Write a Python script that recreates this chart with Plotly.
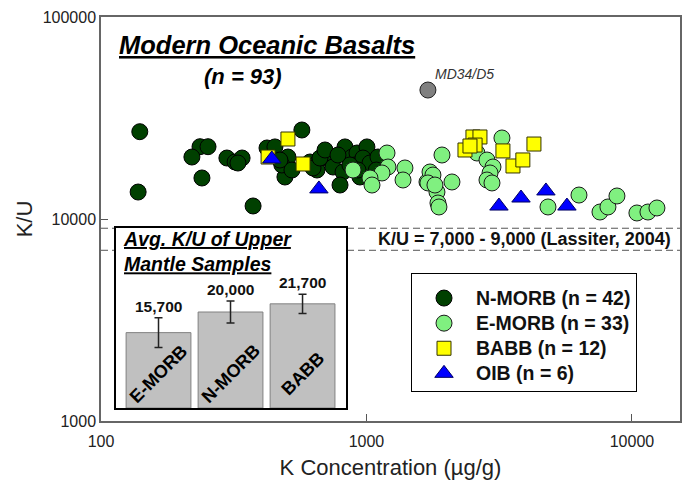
import math
import plotly.graph_objects as go

# ---------------- data ----------------
nmorb_k = [140, 138, 236, 253, 220, 240, 298, 320, 340, 328, 374, 422, 452, 506, 493, 480, 571, 613, 640, 651,
           629, 729, 748, 830, 882, 816, 795, 921, 905, 1004, 970, 1031, 945, 668, 866, 1105, 1089, 524, 698, 781,
           929, 472]
nmorb_ku = [27050, 13600, 22800, 22800, 20270, 15960, 20040, 19150, 20040, 18930, 11600, 22470, 22740, 20270, 16140,
            18510, 27580, 19150, 18510, 17480, 17890, 19590, 18090, 22740, 20270, 17090, 14730, 21220, 18510, 22740,
            20040, 18930, 16140, 20040, 18510, 20270, 17480, 17480, 21960, 20740, 17480, 19590]

emorb_k = [1195, 1205, 1144, 1031, 1049, 890, 1396, 1373, 1690, 1735, 1843, 1925, 1780, 1704, 1811, 2099, 1859, 1875,
           2608, 2844, 2996, 2920, 2844, 2970, 3238, 4827, 6316, 7578, 8120, 8780, 10440, 11490, 12420]
emorb_ku = [21220, 18090, 16900, 15960, 14730, 17480, 17890, 15600, 15250, 17090, 13600, 20740, 16510, 15080, 14730,
            15250, 12000, 11470, 21220, 19590, 18090, 16900, 15600, 15080, 25180, 11470, 13140, 10830, 11470, 13000,
            10710, 10830, 11340]

babb_k = [506, 426, 577, 2350, 2518, 2676, 2565, 3266, 3563, 3882, 4274, 2454]
babb_ku = [24890, 20270, 18720, 21960, 25470, 25470, 23230, 21730, 18300, 19600, 23500, 22980]

oib_k = [440, 662, 3155, 3820, 4742, 5690]
oib_ku = [19820, 14090, 11590, 12700, 13770, 11590]

outlier_k = [1704]
outlier_ku = [43500]
outlier_label = "MD34/D5"

lassiter_range = [7000, 9000]

inset_cats = ["E-MORB", "N-MORB", "BABB"]
inset_vals = [15700, 20000, 21700]
inset_err = [3100, 2300, 2000]
inset_labels = ["15,700", "20,000", "21,700"]

series_names = ["N-MORB (n = 42)", "E-MORB (n = 33)", "BABB (n = 12)", "OIB (n = 6)"]

# ---------------- style ----------------
FONT = "Arial, Liberation Sans, sans-serif"
W, H = 686, 480
L, R, T, B = 101, 6, 17, 59
PW, PH = W - L - R, H - T - B


def px(x):
    return (x - L) / PW


def py(y):
    return (H - B - y) / PH


def lname(s):
    return '<span style="font-size:19.5px">' + s + '</span>'


fig = go.Figure()

fig.add_trace(go.Scatter(x=nmorb_k, y=nmorb_ku, mode="markers", name=lname(series_names[0]),
                         marker=dict(symbol="circle", size=16, color="#004000",
                                     line=dict(color="#000000", width=1))))
fig.add_trace(go.Scatter(x=emorb_k, y=emorb_ku, mode="markers", name=lname(series_names[1]),
                         marker=dict(symbol="circle", size=16, color="#80F080",
                                     line=dict(color="#1a1a1a", width=1))))
fig.add_trace(go.Scatter(x=babb_k, y=babb_ku, mode="markers", name=lname(series_names[2]),
                         marker=dict(symbol="square", size=14, color="#FFFF00",
                                     line=dict(color="#333300", width=1))))
fig.add_trace(go.Scatter(x=oib_k, y=oib_ku, mode="markers", name=lname(series_names[3]),
                         marker=dict(symbol="triangle-up", size=16, color="#0000FF",
                                     line=dict(color="#000066", width=1))))
fig.add_trace(go.Scatter(x=outlier_k, y=outlier_ku, mode="markers", showlegend=False,
                         marker=dict(symbol="circle", size=16, color="#808080",
                                     line=dict(color="#222222", width=1))))

# inset bars
fig.add_trace(go.Bar(x=list(range(len(inset_cats))), y=inset_vals, width=0.9,
                     xaxis="x2", yaxis="y2", showlegend=False,
                     marker=dict(color="#C0C0C0", line=dict(color="#808080", width=1)),
                     error_y=dict(type="data", array=inset_err, color="#222222",
                                  thickness=1.5, width=4)))

shapes = []
inset_x0, inset_x1 = px(115), px(347)
inset_y0, inset_y1 = py(409), py(227)
for v in lassiter_range:
    for a, b in [(0, inset_x0), (inset_x1, 1)]:
        shapes.append(dict(type="line", xref="paper", yref="y", x0=a, x1=b, y0=v, y1=v,
                           line=dict(color="#555555", width=1, dash="7px,4px")))
shapes.append(dict(type="rect", xref="paper", yref="paper", x0=inset_x0, x1=inset_x1,
                   y0=inset_y0, y1=inset_y1, line=dict(color="#000000", width=2),
                   fillcolor="rgba(0,0,0,0)", layer="above"))

annotations = [
    dict(xref="paper", yref="paper", x=px(117), y=py(45), xanchor="left", yanchor="middle",
         text="Modern Oceanic Basalts", showarrow=False,
         font=dict(family=FONT, size=25.5, color="#000", weight="bold", style="italic", lineposition="under")),
    dict(xref="paper", yref="paper", x=px(243), y=py(76), xanchor="center", yanchor="middle",
         text="(n = 93)", showarrow=False,
         font=dict(family=FONT, size=22, color="#000", weight="bold", style="italic")),
    dict(xref="x", yref="y", x=math.log10(outlier_k[0]), y=math.log10(outlier_ku[0]),
         xanchor="left", yanchor="bottom", xshift=5, yshift=6, text=outlier_label, showarrow=False,
         font=dict(family=FONT, size=14, color="#333", style="italic")),
    dict(xref="paper", yref="y", x=px(673), xanchor="right", yanchor="middle",
         y=(math.log10(lassiter_range[0]) + math.log10(lassiter_range[1])) / 2,
         text="K/U = 7,000 - 9,000 (Lassiter, 2004)", showarrow=False,
         font=dict(family=FONT, size=18, color="#111", weight="bold")),
    dict(xref="paper", yref="paper", x=px(121), y=py(226), xanchor="left", yanchor="top", align="left",
         text="Avg. K/U of Upper<br>Mantle Samples", showarrow=False,
         font=dict(family=FONT, size=19.5, color="#000", weight="bold", style="italic", lineposition="under")),
]
for i, (lab, v, e, c) in enumerate(zip(inset_labels, inset_vals, inset_err, inset_cats)):
    annotations.append(dict(xref="x2", yref="y2", x=i, y=v + e, yanchor="bottom", xanchor="center",
                            yshift=1, text=lab, showarrow=False,
                            font=dict(family=FONT, size=15.5, color="#111", weight="bold")))
    annotations.append(dict(xref="x2", yref="paper", x=i, y=py(374), xanchor="center", yanchor="middle",
                            textangle=-45, text=c, showarrow=False,
                            font=dict(family=FONT, size=18, color="#000", weight="bold")))

fig.update_layout(
    width=W, height=H,
    margin=dict(l=L, r=R, t=T, b=B, autoexpand=False),
    paper_bgcolor="white", plot_bgcolor="white",
    font=dict(family=FONT, color="#222"),
    shapes=shapes, annotations=annotations,
    xaxis=dict(type="log", range=[2, 4.181], tickvals=[100, 1000, 10000], ticktext=["100", "1000", "10000"],
               ticks="inside", ticklen=7, tickcolor="#555", showline=True, mirror=True, linecolor="#666",
               linewidth=1.5, showgrid=False, zeroline=False, tickfont=dict(size=16, color="#222"),
               ticklabelstandoff=5,
               title=dict(text="K Concentration (µg/g)", font=dict(size=22, color="#222"), standoff=12)),
    yaxis=dict(type="log", range=[3, 5], tickvals=[1000, 10000, 100000], ticktext=["1000", "10000", "100000"],
               ticks="inside", ticklen=7, tickcolor="#555", showline=True, mirror=True, linecolor="#666",
               linewidth=1.5, showgrid=False, zeroline=False, tickfont=dict(size=16, color="#222"),
               title=dict(text="K/U", font=dict(size=22, color="#222"), standoff=4)),
    xaxis2=dict(domain=[px(119), px(342)], range=[-0.5486, 2.548], anchor="y2", visible=False),
    yaxis2=dict(domain=[py(408), py(227)], range=[0, 37708], anchor="x2", visible=False),
    legend=dict(x=px(411), y=py(273), xanchor="left", yanchor="top", bgcolor="white",
                bordercolor="#000", borderwidth=1, font=dict(family=FONT, size=17, color="#111", weight="bold"),
                itemwidth=54, tracegroupgap=0,
                title=dict(text=" ", font=dict(size=5))),
    showlegend=True,
)

fig.write_html("out.html")
